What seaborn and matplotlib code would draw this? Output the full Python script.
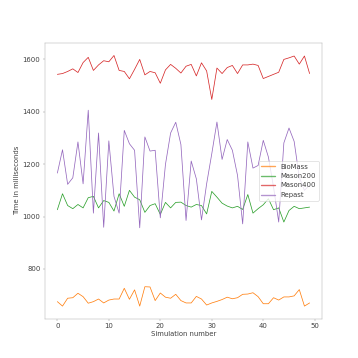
import numpy as np
import pandas as pd
import seaborn as sns
import matplotlib.pyplot as plt

# tempos por simulacao (ms)
simulations = list(range(50))

biomass = [675, 658, 688, 690, 707, 694, 669, 675, 685, 670,
           681, 685, 685, 726, 684, 720, 658, 732, 731, 679,
           708, 692, 688, 703, 679, 670, 670, 695, 685, 662,
           670, 676, 683, 692, 686, 690, 703, 704, 709, 694,
           667, 667, 690, 681, 693, 693, 697, 721, 658, 670]

mason200 = [1026, 1087, 1042, 1030, 1046, 1033, 1072, 1077, 1033, 1061,
            1054, 1021, 1087, 1039, 1100, 1074, 1064, 1016, 1042, 1049,
            1008, 1054, 1033, 1054, 1055, 1042, 1036, 1046, 1042, 1010,
            1096, 1074, 1051, 1040, 1033, 1039, 1027, 1084, 1013, 1030,
            1045, 1068, 1026, 1033, 979, 1023, 1039, 1030, 1033, 1036]

mason400 = [1543, 1546, 1554, 1564, 1550, 1588, 1608, 1558, 1579, 1595,
            1591, 1615, 1558, 1554, 1526, 1562, 1600, 1541, 1554, 1549,
            1509, 1560, 1581, 1566, 1548, 1574, 1581, 1537, 1587, 1556,
            1447, 1567, 1546, 1569, 1577, 1546, 1579, 1579, 1582, 1577,
            1527, 1535, 1543, 1551, 1600, 1606, 1613, 1582, 1613, 1546]

repast = [1166, 1255, 1123, 1148, 1285, 1125, 1406, 1013, 1319, 959,
          1289, 1077, 1013, 1329, 1278, 1253, 957, 1304, 1250, 1253,
          995, 1199, 1319, 1360, 1275, 985, 1212, 1144, 987, 1125,
          1240, 1361, 1218, 1294, 1253, 1157, 972, 1285, 1185, 1195,
          1291, 1227, 1112, 979, 1281, 1338, 1287, 1150, 1100, 1120]

series_names = ["BioMass", "Mason200", "Mason400", "Repast"]
series_values = [biomass, mason200, mason400, repast]
colors = ["#ff7f0e", "#2ca02c", "#d62728", "#9467bd"]

frames = []
for name, vals in zip(series_names, series_values):
    frames.append(pd.DataFrame({"sim": simulations, "time": vals, "model": name}))
df = pd.concat(frames, ignore_index=True)

sns.set_style("ticks", {"axes.edgecolor": ".7", "xtick.color": ".6", "ytick.color": ".6",
                        "text.color": ".25", "axes.labelcolor": ".25"})
plt.rcParams["font.size"] = 11
plt.rcParams["xtick.labelcolor"] = ".25"
plt.rcParams["ytick.labelcolor"] = ".25"
fig = plt.figure(figsize=(8, 8), dpi=44.75)
ax = sns.lineplot(data=df, x="sim", y="time", hue="model",
                  palette=colors, linewidth=1.2)
ax.set_xlabel("Simulation number")
ax.set_ylabel("Time in milliseconds")
leg = ax.legend(loc="center right")
for line in leg.get_lines():
    line.set_linewidth(2.2)
    line.set_alpha(0.7)
plt.savefig("out.png", dpi=44.75)
